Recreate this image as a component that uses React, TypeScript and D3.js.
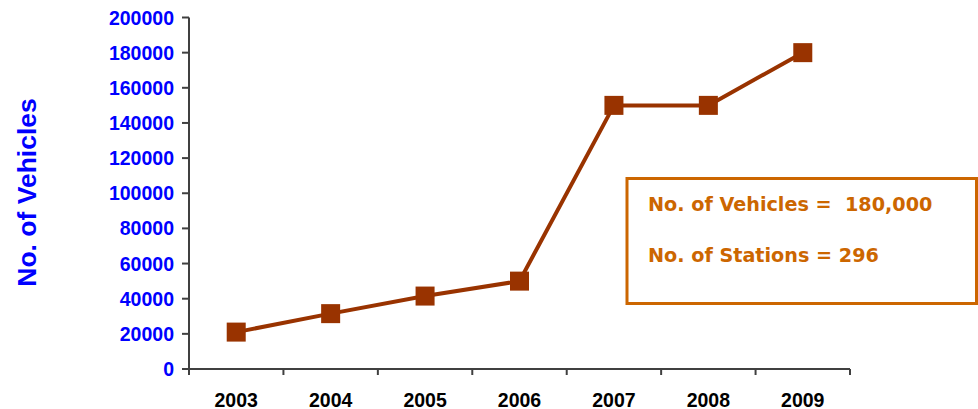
import React from "react";
import * as d3 from "d3";

const years = ["2003", "2004", "2005", "2006", "2007", "2008", "2009"];
const vehicles = [21000, 31500, 41500, 50000, 150000, 150000, 180000];
const yTicks = [0, 20000, 40000, 60000, 80000, 100000, 120000, 140000, 160000, 180000, 200000];
const yTitle = "No. of Vehicles";
const infoLines = ["No. of Vehicles =  180,000", "No. of Stations = 296"];

export default function App() {
  const W = 978, H = 409;
  const left = 189, right = 850, top = 17.5, bottom = 369;
  const x = d3.scaleBand<string>().domain(years).range([left, right]).padding(0);
  const y = d3.scaleLinear().domain([0, 200000]).range([bottom, top]);
  const line = d3
    .line<number>()
    .x((_, i) => (x(years[i]) as number) + x.bandwidth() / 2)
    .y((d) => y(d));
  const axisColor = "#404040";
  const mk = 19;
  const font = "'Liberation Sans', Arial, sans-serif";
  const boundaries = years.map((yr) => x(yr) as number).concat([right]);
  return (
    <svg width={W} height={H} style={{ position: "absolute", left: 0, top: 0, background: "#fff" }}>
      <rect x={0} y={0} width={W} height={H} fill="#fff" />
      {/* y axis */}
      <line x1={left} x2={left} y1={top} y2={bottom} stroke={axisColor} strokeWidth={2} />
      {yTicks.map((t) => (
        <g key={t}>
          <line x1={left - 7} x2={left} y1={y(t)} y2={y(t)} stroke={axisColor} strokeWidth={2} />
          <text
            x={left - 15}
            y={y(t)}
            dy="0.36em"
            textAnchor="end"
            fontFamily={font}
            fontWeight="bold"
            fontSize={19.5}
            fill="#0000FF"
          >
            {t}
          </text>
        </g>
      ))}
      {/* x axis */}
      <line x1={left} x2={right} y1={bottom} y2={bottom} stroke={axisColor} strokeWidth={2} />
      {boundaries.map((bx, i) => (
        <line key={i} x1={bx} x2={bx} y1={bottom} y2={bottom + 6} stroke={axisColor} strokeWidth={2} />
      ))}
      {years.map((yr) => (
        <text
          key={yr}
          x={(x(yr) as number) + x.bandwidth() / 2}
          y={406.5}
          textAnchor="middle"
          fontFamily={font}
          fontWeight="bold"
          fontSize={19.5}
          fill="#000"
        >
          {yr}
        </text>
      ))}
      {/* y title */}
      <text
        transform={`translate(36,192.5) rotate(-90)`}
        textAnchor="middle"
        fontFamily={font}
        fontWeight="bold"
        fontSize={26.5}
        fill="#0000FF"
      >
        {yTitle}
      </text>
      {/* line */}
      <path d={line(vehicles) || ""} fill="none" stroke="#993300" strokeWidth={4} />
      {vehicles.map((v, i) => (
        <rect
          key={i}
          x={(x(years[i]) as number) + x.bandwidth() / 2 - mk / 2}
          y={y(v) - mk / 2}
          width={mk}
          height={mk}
          fill="#993300"
        />
      ))}
      {/* info box */}
      <rect x={627} y={178.5} width={349.5} height={125} fill="#fff" stroke="#CC6600" strokeWidth={3} />
      {infoLines.map((s, i) => (
        <text
          key={i}
          x={648}
          y={211 + i * 50.5}
          fontFamily="'DejaVu Sans', Verdana, sans-serif"
          fontWeight="bold"
          fontSize={19.2}
          fill="#CC6600"
          xmlSpace="preserve"
          style={{ whiteSpace: "pre" }}
        >
          {s}
        </text>
      ))}
    </svg>
  );
}
